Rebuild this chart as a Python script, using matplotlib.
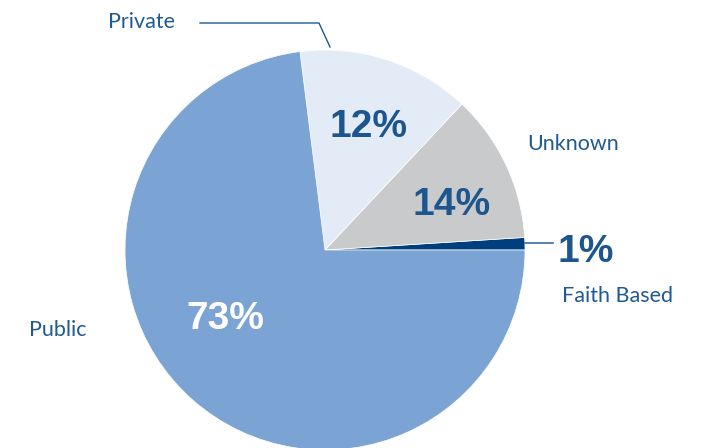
import matplotlib
matplotlib.use("Agg")
import matplotlib.pyplot as plt

# Data (counter-clockwise from 3 o'clock)
categories = ["Faith Based", "Unknown", "Private", "Public"]
shares = [1, 12, 14, 73]
pct_labels = ["1%", "14%", "12%", "73%"]
colors = ["#003f7d", "#c9cacc", "#e3ecf6", "#7ba3d4"]

W, H = 705, 448
fig = plt.figure(figsize=(W / 100, H / 100), dpi=100)
ax = fig.add_axes([0, 0, 1, 1])

cx, cy, r = 325, H - 250, 200
wedges, _ = ax.pie(shares, colors=colors, startangle=0, counterclock=True,
                   center=(cx, cy), radius=r, frame=True,
                   wedgeprops=dict(edgecolor="white", linewidth=0.5))
ax.set_xlim(0, W)
ax.set_ylim(0, H)
ax.set_aspect("equal")
ax.axis("off")

txt_blue = "#1f5a93"
pct_blue = "#1d558e"
label_font = ["Lato", "DejaVu Sans"]
pct_font = ["Liberation Sans", "DejaVu Sans"]

def py(y):
    return H - y

# Percent labels
pct_size = 28
ax.text(368, py(127), pct_labels[2], ha="center", va="center", fontsize=pct_size,
        fontweight="bold", color=pct_blue, family=pct_font)
ax.text(452, py(205), pct_labels[1], ha="center", va="center", fontsize=pct_size,
        fontweight="bold", color=pct_blue, family=pct_font)
ax.text(586, py(252), pct_labels[0], ha="center", va="center", fontsize=pct_size,
        fontweight="bold", color=pct_blue, family=pct_font)
ax.text(225, py(319), pct_labels[3], ha="center", va="center", fontsize=pct_size,
        fontweight="bold", color="white", family=pct_font)

# Category labels
lab_size = 15.5
ax.text(142, py(22), categories[2], ha="center", va="center", fontsize=lab_size,
        color=txt_blue, family=label_font)
ax.text(573, py(144), categories[1], ha="center", va="center", fontsize=lab_size,
        color=txt_blue, family=label_font)
ax.text(618, py(296), categories[0], ha="center", va="center", fontsize=lab_size,
        color=txt_blue, family=label_font)
ax.text(58, py(330), categories[3], ha="center", va="center", fontsize=lab_size,
        color=txt_blue, family=label_font)

# Leader lines
ax.plot([200, 319, 330], [py(23), py(23), py(47)], color=txt_blue, lw=1.0)
ax.plot([525, 553], [py(243), py(243)], color="#3a6ea5", lw=1.2)

fig.savefig("out.png", dpi=100, facecolor="white")
